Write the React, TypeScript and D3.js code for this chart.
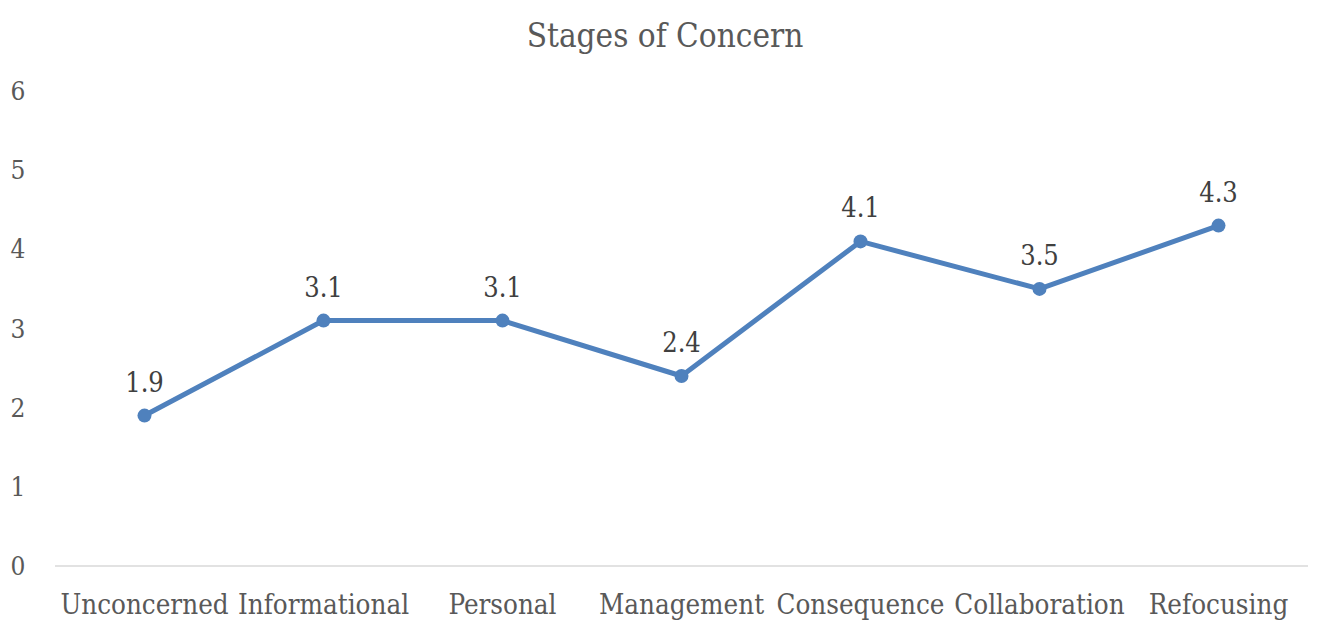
import React from "react";
import * as d3 from "d3";

const categories = ["Unconcerned", "Informational", "Personal", "Management", "Consequence", "Collaboration", "Refocusing"];
const values = [1.9, 3.1, 3.1, 2.4, 4.1, 3.5, 4.3];
const yTicks = [0, 1, 2, 3, 4, 5, 6];
const title = "Stages of Concern";

export default function App() {
  const W = 1332, H = 632;
  const left = 55, right = 1308, top = 91, bottom = 566;
  const x = d3.scaleBand<string>().domain(categories).range([left, right]);
  const y = d3.scaleLinear().domain([0, 6]).range([bottom, top]);
  const cx = (c: string) => (x(c) as number) + x.bandwidth() / 2;
  const line = d3.line<number>().x((_, i) => cx(categories[i])).y((v) => y(v));
  const fs = { fontFamily: "'DejaVu Serif Condensed', 'DejaVu Serif', serif" };
  return (
    <svg width={W} height={H} style={{ position: "absolute", left: 0, top: 0, background: "#fff" }}>
      <rect width={W} height={H} fill="#fff" />
      <text style={fs} x={665} y={47} textAnchor="middle" fontSize={33} fill="#595959">{title}</text>
      {yTicks.map((t) => (
        <text style={fs} key={t} x={18} y={y(t) + 9} textAnchor="middle" fontSize={26} fill="#595959">{t}</text>
      ))}
      <line x1={left} x2={right} y1={bottom} y2={bottom} stroke="#d9d9d9" strokeWidth={1.5} />
      {categories.map((c) => (
        <text style={fs} key={c} x={cx(c)} y={614} textAnchor="middle" fontSize={27.5} fill="#595959">{c}</text>
      ))}
      <path d={line(values) || ""} fill="none" stroke="#4F81BD" strokeWidth={5} strokeLinejoin="round" />
      {values.map((v, i) => (
        <circle key={i} cx={cx(categories[i])} cy={y(v)} r={7} fill="#4F81BD" />
      ))}
      {values.map((v, i) => (
        <text style={fs} key={"l" + i} x={cx(categories[i])} y={y(v) - 24} textAnchor="middle" fontSize={27} fill="#404040">{v.toFixed(1)}</text>
      ))}
    </svg>
  );
}
